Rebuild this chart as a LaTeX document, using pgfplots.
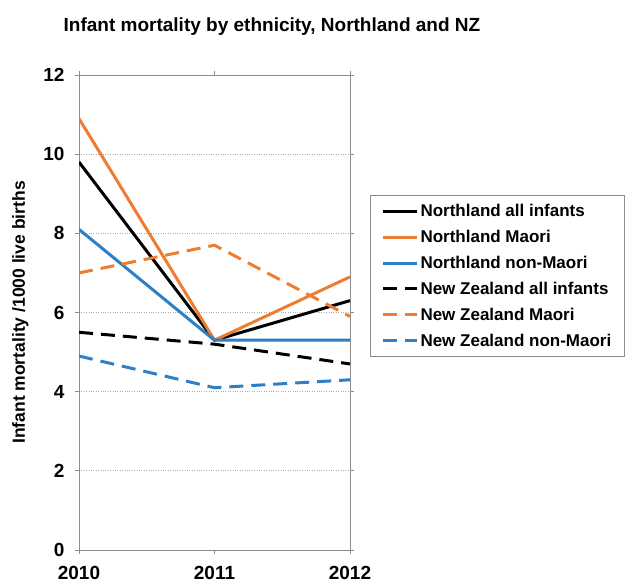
\documentclass[border=0pt]{standalone}
\usepackage{fontspec}
\setmainfont{Liberation Sans}
\usepackage{pgfplots}
\pgfplotsset{compat=1.18}

\definecolor{nlorange}{RGB}{237,125,49}
\definecolor{nlblue}{RGB}{46,128,198}
\definecolor{framegray}{RGB}{140,140,140}

\begin{document}
\begin{tikzpicture}[x=1pt,y=1pt]
\path[use as bounding box] (0,0) rectangle (632,584);
\node[font=\bfseries\fontsize{19}{22}\selectfont] at (272,557) {Infant mortality by ethnicity, Northland and NZ};
\begin{axis}[
  at={(79pt,34pt)}, anchor=south west,
  scale only axis, width=271pt, height=475pt,
  xmin=2010, xmax=2012, ymin=0, ymax=12,
  xtick={2010,2011,2012}, ytick={0,2,4,6,8,10,12},
  /pgf/number format/1000 sep={},
  /pgf/number format/assume math mode=true,
  tick label style={font=\bfseries\fontsize{19}{21}\selectfont},
  xticklabel style={yshift=-9pt},
  yticklabel style={xshift=-7pt},
  ylabel={Infant mortality /1000 live births},
  ylabel style={font=\bfseries\fontsize{17.5}{20}\selectfont, yshift=8pt},
  axis line style={framegray, line width=0.9pt},
  tick style={framegray, line width=0.8pt},
  tick align=outside, major tick length=4pt,
  ymajorgrids, grid style={framegray!70, dotted, line width=0.8pt},
  legend cell align=left,
  legend style={at={(1.074,0.747)}, anchor=north west, draw=framegray, line width=0.9pt,
    font=\bfseries\fontsize{17}{20}\selectfont, inner xsep=11pt, inner ysep=7pt,
    row sep=8pt},
  legend image code/.code={\draw[line width=3pt,#1] (0pt,0pt) -- (34pt,0pt);},
  dashed line/.style={dash pattern=on 14pt off 8pt},
]
\addplot[black, line width=3pt] coordinates {(2010,9.8) (2011,5.3) (2012,6.3)};
\addlegendentry{Northland all infants}
\addplot[nlorange, line width=3pt] coordinates {(2010,10.9) (2011,5.3) (2012,6.9)};
\addlegendentry{Northland Maori}
\addplot[nlblue, line width=3pt] coordinates {(2010,8.1) (2011,5.3) (2012,5.3)};
\addlegendentry{Northland non-Maori}
\addplot[black, line width=3pt, dashed line] coordinates {(2010,5.5) (2011,5.2) (2012,4.7)};
\addlegendentry{New Zealand all infants}
\addplot[nlorange, line width=3pt, dashed line] coordinates {(2010,7.0) (2011,7.7) (2012,5.9)};
\addlegendentry{New Zealand Maori}
\addplot[nlblue, line width=3pt, dashed line] coordinates {(2010,4.9) (2011,4.1) (2012,4.3)};
\addlegendentry{New Zealand non-Maori}
\end{axis}
\end{tikzpicture}
\end{document}
